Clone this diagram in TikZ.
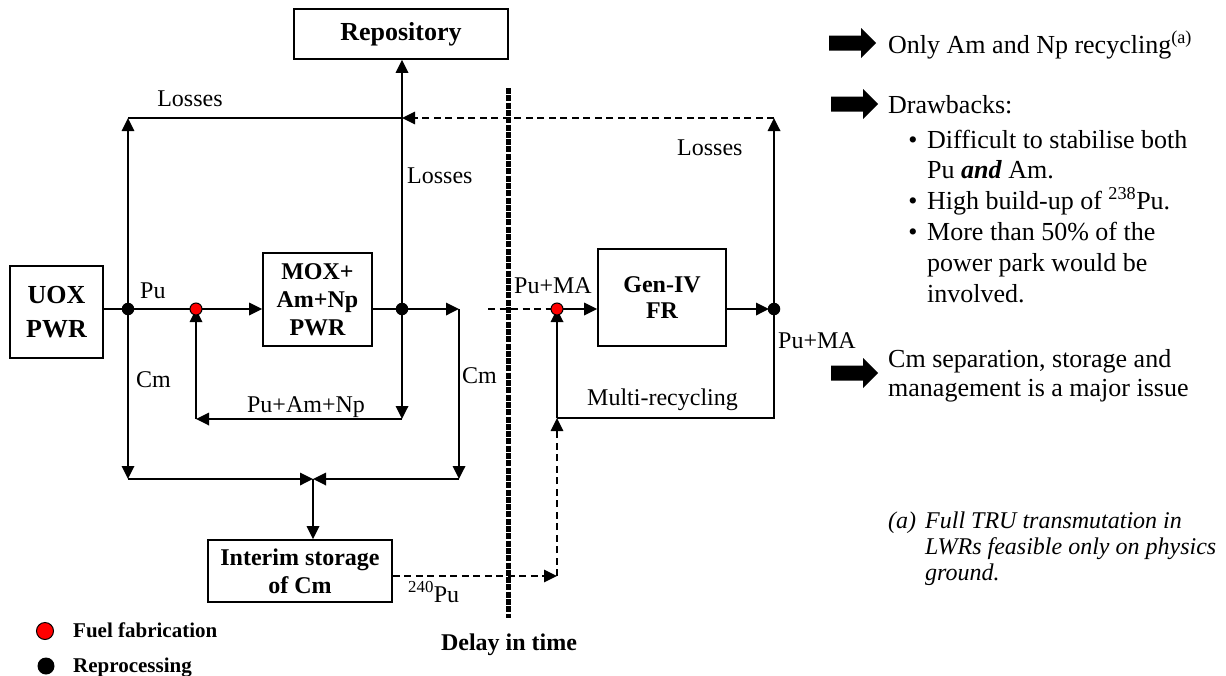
\documentclass[tikz,border=0pt]{standalone}
\usepackage{fontspec}
\setmainfont{Liberation Serif}
\usetikzlibrary{arrows.meta}

\newcommand\dfont{\fontsize{24}{28}\selectfont}
\newcommand\rfont{\fontsize{26}{31}\selectfont}

\tikzset{
  box/.style={draw, line width=1.8pt, rectangle, inner sep=0pt, align=center, font=\bfseries},
  flow/.style={line width=1.8pt},
  tip/.style={-{Triangle[length=13pt,width=12.5pt]}},
  dashline/.style={line width=1.4pt, dash pattern=on 7pt off 4.5pt},
  rdot/.style={circle, fill=red, draw=black, line width=1pt, minimum size=12pt, inner sep=0pt},
  bdot/.style={circle, fill=black, minimum size=12.5pt, inner sep=0pt},
  lab/.style={inner sep=0pt, font=\dfont},
  rtxt/.style={inner sep=0pt, font=\rfont, anchor=base west},
  fatarrow/.pic={\fill[black] (0,-7.5) -- (32,-7.5) -- (32,-15) -- (47,0) -- (32,15) -- (32,7.5) -- (0,7.5) -- cycle;}
}

\begin{document}
\begin{tikzpicture}[x=1pt, y=-1pt]
\useasboundingbox (0,0) rectangle (1226,675);
\fill[white] (0,0) rectangle (1226,675);

% ---------- boxes ----------
\node[box, minimum width=93pt, minimum height=92pt, font=\bfseries\fontsize{26}{34}\selectfont] (uox) at (56.5,312) {UOX\\PWR};
\node[box, minimum width=109pt, minimum height=93pt, font=\bfseries\fontsize{24}{28}\selectfont] (mox) at (317.5,299.5) {MOX+\\Am+Np\\PWR};
\node[box, minimum width=214pt, minimum height=50pt, font=\bfseries\fontsize{26}{30}\selectfont] (repo) at (401,34) {Repository};
\node[box, minimum width=128pt, minimum height=97pt, font=\bfseries\fontsize{24}{26}\selectfont] (gen) at (662,297.5) {Gen-IV\\FR};
\node[box, minimum width=184pt, minimum height=62pt, font=\bfseries\fontsize{24}{28}\selectfont] (interim) at (300,571) {Interim storage\\of Cm};

% ---------- junction points ----------
\coordinate (d1) at (128,309);
\coordinate (f1) at (196,309);
\coordinate (d2) at (402,309);
\coordinate (cmR) at (459,309);
\coordinate (f2) at (557,309);
\coordinate (d3) at (774,309);
\coordinate (lossL) at (128,118);
\coordinate (lossM) at (402,118);
\coordinate (lossR) at (774,118);
\coordinate (retR) at (402,419);
\coordinate (retL) at (196,419);
\coordinate (cmLb) at (128,479);
\coordinate (cmRb) at (459,479);
\coordinate (join) at (313,479);
\coordinate (pustart) at (488,309);
\coordinate (mrR) at (774,418);
\coordinate (mrL) at (557,418);
\coordinate (pu240) at (557,576);
\coordinate (delayTop) at (508,88);
\coordinate (delayBot) at (508,618);

% ---------- delay line ----------
\draw[line width=5pt, dash pattern=on 6pt off 1.3pt] (delayTop) -- (delayBot);

% ---------- UOX / MOX loop ----------
\draw[flow] (uox.east |- d1) -- (d1) -- (f1);
\draw[flow, tip] (f1) -- (mox.west |- f1);
\draw[flow] (mox.east |- d2) -- (d2);
\draw[flow, tip] (d2) -- (cmR);
\draw[flow, tip] (cmR) -- (cmRb);
\draw[flow, tip] (d1) -- (lossL);
\draw[flow] (lossL) -- (lossM);
\draw[flow, tip] (d2) -- (d2 |- repo.south);
\draw[dashline, tip] (lossR) -- (lossM);
\draw[flow, tip] (d2) -- (retR);
\draw[flow, tip] (retR) -- (retL);
\draw[flow, tip] (retL) -- (f1);
\draw[flow, tip] (d1) -- (cmLb);
\draw[flow, tip] (cmLb) -- (join);
\draw[flow, tip] (cmRb) -- (join);
\draw[flow, tip] (join) -- (join |- interim.north);

% ---------- fast reactor loop ----------
\draw[dashline] (pustart) -- (f2);
\draw[flow, tip] (f2) -- (gen.west |- f2);
\draw[flow, tip, shorten >=5pt] (gen.east |- d3) -- (d3);
\draw[flow, tip] (d3) -- (lossR);
\draw[flow] (d3) -- (mrR) -- (mrL);
\draw[flow, tip] (mrL) -- (f2);
\draw[dashline, tip] (interim.east |- pu240) -- (pu240);
\draw[dashline, tip] (pu240) -- (mrL);

% ---------- process points ----------
\node[bdot] (rp1) at (d1) {};
\node[bdot] (rp2) at (d2) {};
\node[bdot] (rp3) at (d3) {};
\node[rdot] (ff1) at (f1) {};
\node[rdot] (ff2) at (f2) {};

% ---------- flow labels ----------
\node[lab, anchor=base] (lossLlab) at (190,106) {Losses};
\node[lab, anchor=base west] (lossMlab) at (407,183) {Losses};
\node[lab, anchor=base west] (lossRlab) at (677,155) {Losses};
\node[lab, anchor=base west] (pulab) at (140,298) {Pu};
\node[lab, anchor=base west] (cmLlab) at (136,387) {Cm};
\node[lab, anchor=base west] (cmRlab) at (462,383) {Cm};
\node[lab, anchor=base] (retlab) at (306,412) {Pu+Am+Np};
\node[lab, anchor=base west] (pumaL) at (514,293) {Pu+MA};
\node[lab, anchor=base west] (pumaR) at (778,348) {Pu+MA};
\node[lab, anchor=base west] (mrlab) at (587,405) {Multi-recycling};
\node[lab, anchor=base west] (pu240lab) at (408,602) {\textsuperscript{240}Pu};
\node[lab, anchor=base, font=\bfseries\dfont] (delaylab) at (509,650) {Delay in time};

% ---------- legend ----------
\node[circle, fill=red, draw=black, line width=1pt, minimum size=17pt, inner sep=0pt] (legf) at (45,631) {};
\node[circle, fill=black, minimum size=17pt, inner sep=0pt] (legr) at (46,666) {};
\node[inner sep=0pt, anchor=base west, font=\bfseries\fontsize{21}{25}\selectfont] (legftxt) at (73,637) {Fuel fabrication};
\node[inner sep=0pt, anchor=base west, font=\bfseries\fontsize{21}{25}\selectfont] (legrtxt) at (73,672) {Reprocessing};

% ---------- notes ----------
\pic at (829,43) {fatarrow};
\node[rtxt] (n1) at (888,53) {Only Am and Np recycling\textsuperscript{(a)}};
\pic at (831,104) {fatarrow};
\node[rtxt] (n2) at (888,113) {Drawbacks:};
\node[rtxt, anchor=base] (b1) at (913,148) {\textbullet};
\node[rtxt] (n3) at (927,148) {Difficult to stabilise both};
\node[rtxt] (n4) at (927,178) {Pu \textbf{\textit{and}} Am.};
\node[rtxt, anchor=base] (b2) at (913,209) {\textbullet};
\node[rtxt] (n5) at (927,209) {High build-up of \textsuperscript{238}Pu.};
\node[rtxt, anchor=base] (b3) at (913,240) {\textbullet};
\node[rtxt] (n6) at (927,240) {More than 50\% of the};
\node[rtxt] (n7) at (927,271) {power park would be};
\node[rtxt] (n8) at (927,302) {involved.};
\pic at (831,373) {fatarrow};
\node[rtxt] (n9) at (888,367) {Cm separation, storage and};
\node[rtxt] (n10) at (888,396) {management is a major issue};

\node[inner sep=0pt, anchor=base west, font=\itshape\dfont] (fa) at (888,528) {(a)};
\node[inner sep=0pt, anchor=base west, font=\itshape\dfont] (f1txt) at (925,528) {Full TRU transmutation in};
\node[inner sep=0pt, anchor=base west, font=\itshape\dfont] (f2txt) at (925,554) {LWRs feasible only on physics};
\node[inner sep=0pt, anchor=base west, font=\itshape\dfont] (f3txt) at (925,580) {ground.};
\end{tikzpicture}
\end{document}
